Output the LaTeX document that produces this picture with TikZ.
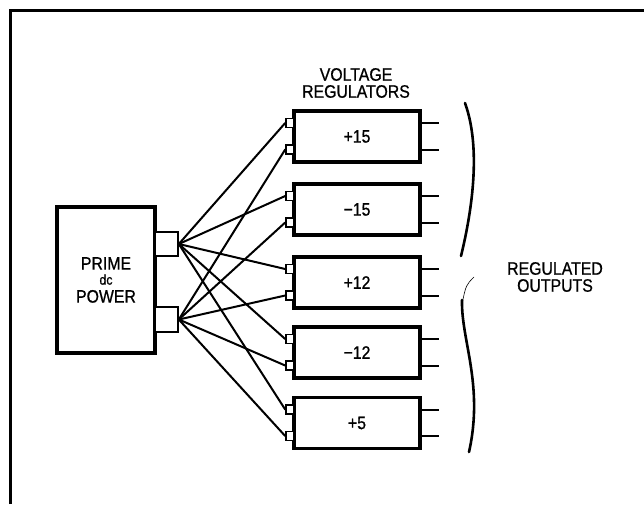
\documentclass[tikz,border=0pt]{standalone}
\usepackage{fontspec}
\setmainfont{Liberation Sans}[FakeStretch=0.88, FakeBold=0.8]
\usetikzlibrary{positioning,calc}

\begin{document}
\begin{tikzpicture}[x=1pt, y=-1pt,
  caja/.style={draw, line width=3.3pt, fill=white, inner sep=0pt},
  borne/.style={draw, line width=1.6pt, fill=white, inner sep=0pt},
  cable/.style={line width=2pt, line cap=round},
  tit/.style={font=\fontsize{18}{17}\selectfont, align=center, inner sep=0pt},
  llave/.style={line width=2.6pt, line cap=round}]
  \useasboundingbox (0,0) rectangle (644,504);
  % Marco
  \draw[line width=3pt] (10,504) -- (10,10) -- (644,10);
  % Fuente primaria
  \node[caja, minimum width=98pt, minimum height=146pt, align=center,
        font=\fontsize{18}{18}\selectfont] (fuente) at (106,280)
       {PRIME\\[-3pt]{\fontsize{14}{14}\selectfont dc}\\POWER};
  \node[borne, minimum width=23pt, minimum height=24pt] (bornea) at (166.5,244) {};
  \node[borne, minimum width=23pt, minimum height=25pt] (borneb) at (166.5,319.5) {};
  % Reguladores
  \node[tit] (tregs) at (356,83) {VOLTAGE\\REGULATORS};
  \foreach \yy/\val [count=\i] in {136.5/+15, 209.5/−15, 282.5/+12,
      352.5/−12, 423/+5}{
    \node[caja, minimum width=126pt, minimum height=51pt, tit] (r\i) at (357,\yy) {\val};
    \node[borne, minimum width=8pt, minimum height=9pt] (e\i a) at (290,\yy-13.5) {};
    \node[borne, minimum width=8pt, minimum height=9pt] (e\i b) at (290,\yy+13) {};
    \coordinate (s\i a) at (439,\yy-13.5);
    \coordinate (s\i b) at (439,\yy+13);
    \draw[cable, line cap=butt] (r\i.east |- s\i a) -- (s\i a);
    \draw[cable, line cap=butt] (r\i.east |- s\i b) -- (s\i b);
    % Cables
    \draw[cable] (bornea.east) -- (e\i a.west);
    \draw[cable] (borneb.east) -- (e\i b.west);
  }
  % Llave y salidas
  \draw[llave] (465,103) .. controls (482,150) and (471,215) .. (461,256);
  \draw[line width=0.6pt] (474,277) .. controls (466,285) .. (462,304);
  \draw[llave] (462,300) .. controls (461,340) and (484,385) .. (469,452);
  \node[tit] (tsal) at (555,277) {REGULATED\\OUTPUTS};
\end{tikzpicture}
\end{document}
